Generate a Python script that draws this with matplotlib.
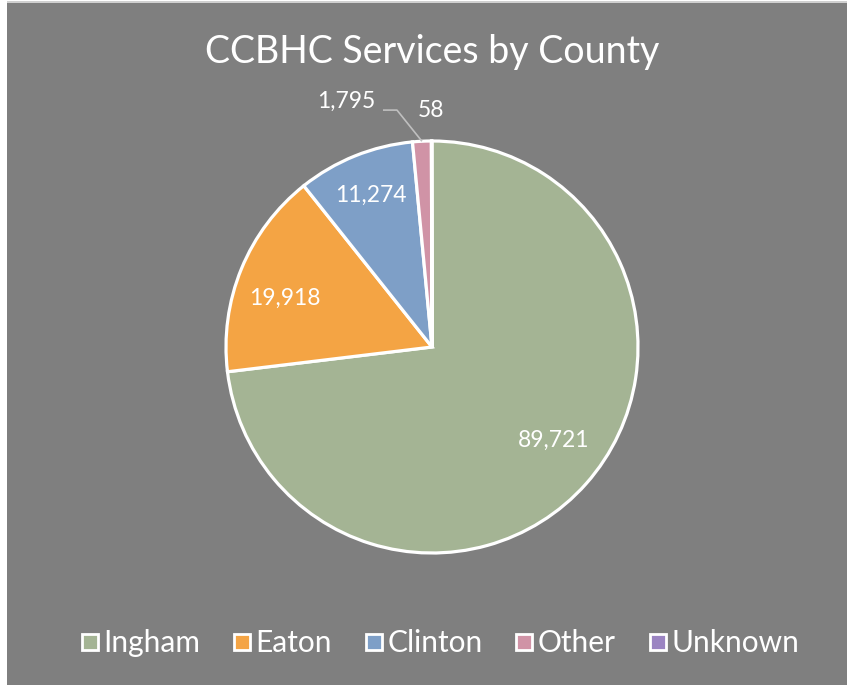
import numpy as np
import matplotlib
matplotlib.use("Agg")
from matplotlib import pyplot, patches
from matplotlib.lines import Line2D

pyplot.rcParams['font.family'] = ['Lato', 'DejaVu Sans']

counties = ['Ingham', 'Eaton', 'Clinton', 'Other', 'Unknown']
services = [89721, 19918, 11274, 1795, 58]
colors = ['#A4B494', '#F4A444', '#7E9FC7', '#D093A6', '#9B84C2']
title = 'CCBHC Services by County'

W, H = 847, 685
dpi = 100
bg = '#7F7F7F'

figure = pyplot.figure(figsize=(W / dpi, H / dpi), dpi=dpi, facecolor='white')
# gray chart area with thin light border at the top
figure.patches.append(patches.Rectangle((7 / W, 0), 1 - 7 / W, (H - 2) / H,
                                        transform=figure.transFigure, facecolor=bg,
                                        edgecolor='none', zorder=-10))
figure.patches.append(patches.Rectangle((7 / W, (H - 3) / H), 1 - 7 / W, 2 / H,
                                        transform=figure.transFigure, facecolor='#D0D0D0',
                                        edgecolor='none', zorder=-10))

# pie axes: center (432, 347) px, radius 206 px
cx, cy, r = 432, 347, 206
ax = figure.add_axes([(cx - r) / W, (H - cy - r) / H, 2 * r / W, 2 * r / H])
ax.set_axis_off()
wedges, _ = ax.pie(services, colors=colors, startangle=90, counterclock=False,
                   radius=1.0, wedgeprops=dict(edgecolor='white', linewidth=2.3))
ax.set_xlim(-1, 1)
ax.set_ylim(-1, 1)

# inside labels: (distance as fraction of radius, angle shift from slice middle)
label_pos = [(0.745, 4.2), (0.751, 4.1), (0.795, 0.0)]
for wedge, value, (dist, shift) in zip(wedges[:3], services[:3], label_pos):
    mid = np.deg2rad((wedge.theta1 + wedge.theta2) / 2 + shift)
    ax.text(dist * np.cos(mid), dist * np.sin(mid), f'{value:,}',
            ha='center', va='center', color='white', fontsize=16.5)

# small slices: outside labels, leader line to the "Other" slice
other = wedges[3]
mid = np.deg2rad((other.theta1 + other.theta2) / 2)
tip = (np.cos(mid), np.sin(mid))
ax.plot([-0.238, -0.170, tip[0]], [1.150, 1.150, tip[1]], color='#BFBFBF', lw=1.2,
        clip_on=False, solid_capstyle='butt')
ax.text(-0.417, 1.194, f'{services[3]:,}', ha='center', va='center', color='white', fontsize=16.5)
ax.text(-0.007, 1.150, f'{services[4]:,}', ha='center', va='center', color='white', fontsize=16.5)

figure.text(cx / W, (H - 52) / H, title, ha='center', va='center', color='white', fontsize=27)

handles = [Line2D([], [], marker='s', linestyle='none', markersize=12,
                  markerfacecolor=c, markeredgecolor='white', markeredgewidth=2)
           for c in colors]
legend = figure.legend(handles, counties, loc='center', bbox_to_anchor=(440 / W, (H - 643) / H),
                       ncol=5, frameon=False, fontsize=21.5, handlelength=0.6, handletextpad=0.15,
                       columnspacing=1.1, labelcolor='white')

pyplot.savefig('out.png', dpi=dpi, facecolor=figure.get_facecolor())
